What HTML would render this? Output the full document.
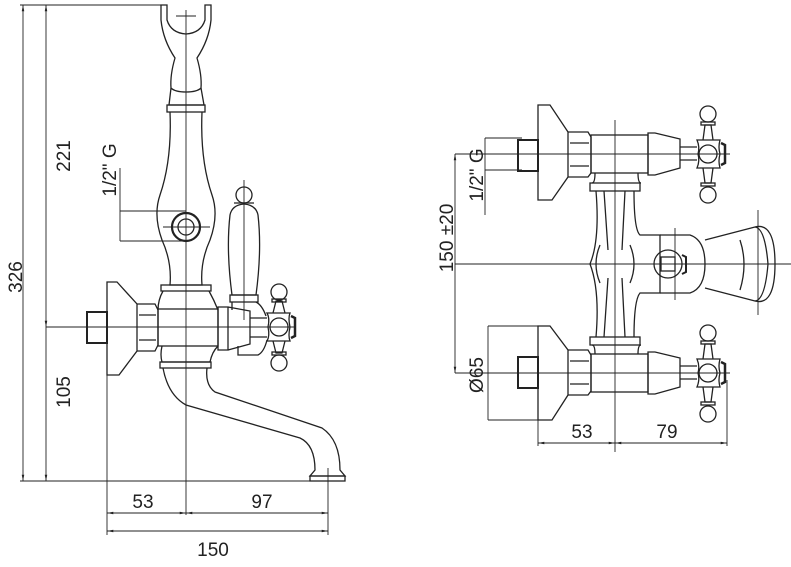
<!DOCTYPE html>
<html><head><meta charset="utf-8"><style>
html,body{margin:0;padding:0;background:#fff}
svg{display:block}
text{font-family:"Liberation Sans",sans-serif;font-size:19px;fill:#222}
</style></head><body>
<svg width="791" height="567" viewBox="0 0 791 567" xmlns="http://www.w3.org/2000/svg">
<defs><marker id="a" viewBox="0 0 10 10" refX="10" refY="5" markerWidth="7" markerHeight="7" orient="auto-start-reverse"><path d="M0,3 L10,5 L0,7z" fill="#222"/></marker></defs>
<g stroke="#222" fill="none" stroke-width="0.9">
<!-- LEFT dimension lines -->
<line x1="20" y1="5" x2="162" y2="5"/>
<line x1="23" y1="5" x2="23" y2="481" marker-start="url(#a)" marker-end="url(#a)"/>
<line x1="46" y1="5" x2="46" y2="327" marker-start="url(#a)" marker-end="url(#a)"/>
<line x1="46" y1="327" x2="46" y2="481" marker-end="url(#a)"/>
<line x1="20" y1="481" x2="345" y2="481"/>
<line x1="46" y1="327" x2="296" y2="327"/>
<line x1="186" y1="10" x2="186" y2="515"/>
<line x1="107" y1="360" x2="107" y2="535"/>
<line x1="328" y1="468" x2="328" y2="535"/>
<line x1="107" y1="513" x2="186" y2="513" marker-start="url(#a)" marker-end="url(#a)"/>
<line x1="186" y1="513" x2="328" y2="513" marker-start="url(#a)" marker-end="url(#a)"/>
<line x1="107" y1="531" x2="328" y2="531" marker-start="url(#a)" marker-end="url(#a)"/>
<line x1="120" y1="168" x2="120" y2="241"/>
<line x1="120" y1="211" x2="186" y2="211"/>
<line x1="120" y1="241" x2="186" y2="241"/>
<line x1="244" y1="180" x2="244" y2="320"/>
<line x1="163" y1="227" x2="210" y2="227"/>
<line x1="176" y1="16" x2="196" y2="16"/>
</g>
<g stroke="#222" fill="none" stroke-width="1.3">
<!-- column -->
<path d="M161,5 L161,20 Q163,40 175,58 Q170,75 171,88 Q175,92 186,92 Q197,92 201,88 Q202,75 197,58 Q209,40 211,20 L211,5 L205,5 L205,20 Q201,33 186,34 Q171,33 167,20 L167,5 Z"/>
<path d="M171,88 L169,105 L204,105 L201,88"/>
<rect x="167" y="105" width="38" height="7"/>
<path d="M170,112 Q172,160 160,195 Q153,215 162,240 Q172,262 170,285 L202,285 Q200,262 210,240 Q219,215 212,195 Q200,160 202,112"/>
<rect x="161" y="285" width="50" height="6"/>
<path d="M163,291 Q158,300 158,310 M209,291 Q214,300 218,310"/>
<circle cx="186" cy="227" r="14" stroke-width="2.2"/>
<circle cx="186" cy="227" r="8"/>
<!-- wall plate & pipe -->
<path d="M107,282 L117,282 L137,304 L137,351 L119,375 L107,375 Z"/>
<rect x="87" y="312" width="20" height="31" stroke-width="2"/>
<path d="M137,304 L155,304 L158,310 L158,345 L155,351 L137,351 M139,315 L156,315 M139,340 L156,340"/>
<rect x="158" y="309" width="60" height="37"/>
<path d="M162,346 Q160,355 162,362 L210,362 Q212,352 218,346"/>
<rect x="160" y="362" width="51" height="6"/>
<path d="M218,307 L228,307 L228,350 L218,350 Z M228,307 L250,311 L250,344 L228,350"/>
<path d="M250,318 L267,318 M250,337 L267,337"/>
<!-- lever -->
<path d="M232,295 Q226,250 230,215 Q232,205 244,204 Q256,205 258,215 Q262,250 256,295 Z"/>
<circle cx="244" cy="195" r="8"/>
<path d="M234,203 L254,203"/>
<rect x="230" y="295" width="28" height="7"/>
<path d="M232,302 L232,310 M256,302 Q262,305 266,316 M238,346 L238,355 L258,355 Q264,352 267,340"/>
<!-- cross handle -->
<circle cx="279" cy="327" r="9"/>
<path d="M267,313 Q270,318 268,327 Q270,336 267,341 L290,341 Q288,336 290,327 Q288,318 290,313 Z"/>
<path d="M291,316 L295,318 L295,336 L291,338" stroke-width="2.5"/>
<path d="M273,313 L276,301 L282,301 L285,313 M273,341 L276,353 L282,353 L285,341"/>
<circle cx="279" cy="292" r="8"/><rect x="272" y="299" width="14" height="3"/>
<circle cx="279" cy="363" r="8"/><rect x="272" y="352" width="14" height="3"/>
<!-- spout -->
<path d="M163,368 Q168,395 186,405 L300,438 Q315,445 315,470 L310,476 L345,476 L340,470 Q340,440 322,428 L215,392 Q205,385 207,368"/>
<rect x="310" y="476" width="35" height="5"/>
</g>

<!-- RIGHT view -->
<g stroke="#222" fill="none" stroke-width="0.9">
<line x1="615" y1="120" x2="615" y2="452"/>
<line x1="455" y1="264" x2="791" y2="264"/>
<line x1="455" y1="154" x2="730" y2="154"/>
<line x1="455" y1="373" x2="730" y2="373"/>
<line x1="455" y1="154" x2="455" y2="373" marker-start="url(#a)" marker-end="url(#a)"/>
<line x1="485" y1="138" x2="485" y2="215"/>
<line x1="485" y1="138" x2="522" y2="138"/>
<line x1="485" y1="170" x2="522" y2="170"/>
<line x1="488" y1="326" x2="488" y2="420"/>
<line x1="488" y1="326" x2="540" y2="326"/>
<line x1="488" y1="420" x2="540" y2="420"/>
<line x1="538" y1="420" x2="538" y2="446"/>
<line x1="727" y1="380" x2="727" y2="446"/>
<line x1="538" y1="443" x2="615" y2="443" marker-start="url(#a)" marker-end="url(#a)"/>
<line x1="615" y1="443" x2="727" y2="443" marker-start="url(#a)" marker-end="url(#a)"/>
<line x1="675" y1="228" x2="675" y2="300"/>
<line x1="758" y1="210" x2="758" y2="315"/>
</g>
<g stroke="#222" fill="none" stroke-width="1.3">
<!-- top branch -->
<path d="M538,105 L550,105 L568,132 L568,177 L552,200 L538,200 Z"/>
<rect x="518" y="140" width="20" height="31" stroke-width="2"/>
<path d="M568,132 L588,132 L591,137 L591,173 L588,177 L568,177 M570,143 L589,143 M570,166 L589,166"/>
<rect x="591" y="135" width="57" height="38"/>
<path d="M648,133 L655,133 L680,139 L680,168 L655,175 L648,175 Z"/>
<path d="M680,147 L697,147 M680,160 L697,160"/>
<circle cx="708" cy="154" r="9"/>
<path d="M697,140 Q700,147 698,154 Q700,161 697,168 L720,168 Q718,161 720,154 Q718,147 720,140 Z"/>
<path d="M721,143 L725,145 L725,163 L721,165" stroke-width="2.5"/>
<path d="M703,140 L705,125 L711,125 L713,140 M703,168 L705,183 L711,183 L713,168"/>
<circle cx="708" cy="114" r="8"/><rect x="701" y="122" width="14" height="3"/>
<circle cx="708" cy="195" r="8"/><rect x="701" y="183" width="14" height="3"/>
<!-- bottom branch -->
<path d="M538,326 L550,326 L568,350 L568,395 L552,420 L538,420 Z"/>
<rect x="518" y="357" width="20" height="31" stroke-width="2"/>
<path d="M568,350 L588,350 L591,355 L591,391 L588,395 L568,395 M570,361 L589,361 M570,384 L589,384"/>
<rect x="591" y="354" width="57" height="38"/>
<path d="M648,352 L655,352 L680,358 L680,387 L655,394 L648,394 Z"/>
<path d="M680,366 L697,366 M680,379 L697,379"/>
<circle cx="708" cy="373" r="9"/>
<path d="M697,359 Q700,366 698,373 Q700,380 697,387 L720,387 Q718,380 720,373 Q718,366 720,359 Z"/>
<path d="M721,362 L725,364 L725,382 L721,384" stroke-width="2.5"/>
<path d="M703,359 L705,344 L711,344 L713,359 M703,387 L705,402 L711,402 L713,387"/>
<circle cx="708" cy="333" r="8"/><rect x="701" y="341" width="14" height="3"/>
<circle cx="708" cy="414" r="8"/><rect x="701" y="402" width="14" height="3"/>
<!-- vertical connector -->
<rect x="590" y="183" width="50" height="8"/>
<rect x="590" y="337" width="50" height="8"/>
<path d="M595,173 Q595,183 592,183 M638,173 Q638,183 641,183 M595,354 Q595,345 592,345 M638,354 Q638,345 641,345"/>
<path d="M596,191 Q600,240 590,264 Q600,290 596,337 M634,191 Q634,230 640,235 L660,235 L660,293 L640,293 Q634,300 634,337"/>
<path d="M604,191 L608,250 M625,191 L622,250 M608,278 L604,337 M622,278 L625,337"/>
<path d="M600,245 Q592,264 600,283 M630,245 Q638,264 630,283"/>
<!-- diverter -->
<path d="M660,235 L690,235 Q705,240 705,264 Q705,288 690,293 L660,293"/>
<circle cx="668" cy="264" r="14"/>
<rect x="661" y="257" width="14" height="14"/>
<path d="M682,255 L686,257 L686,272 L682,274" stroke-width="2"/>
<path d="M705,240 L755,227 Q775,222 775,264 Q775,306 755,301 L705,288"/>
<path d="M755,227 Q765,228 768,264 Q765,300 755,301"/>
<path d="M740,240 Q748,264 740,290"/>
</g>
<!-- labels -->
<text transform="translate(22,277) rotate(-90)" text-anchor="middle">326</text>
<text transform="translate(70,156) rotate(-90)" text-anchor="middle">221</text>
<text transform="translate(70,392) rotate(-90)" text-anchor="middle">105</text>
<text transform="translate(116,170) rotate(-90)" text-anchor="middle">1/2" G</text>
<text x="143" y="508" text-anchor="middle">53</text>
<text x="262" y="508" text-anchor="middle">97</text>
<text x="213" y="556" text-anchor="middle">150</text>
<text transform="translate(453,238) rotate(-90)" text-anchor="middle">150 ±20</text>
<text transform="translate(483,175) rotate(-90)" text-anchor="middle">1/2" G</text>
<text transform="translate(483,375) rotate(-90)" text-anchor="middle">Ø65</text>
<text x="582" y="438" text-anchor="middle">53</text>
<text x="667" y="438" text-anchor="middle">79</text>
</svg>
</body></html>
